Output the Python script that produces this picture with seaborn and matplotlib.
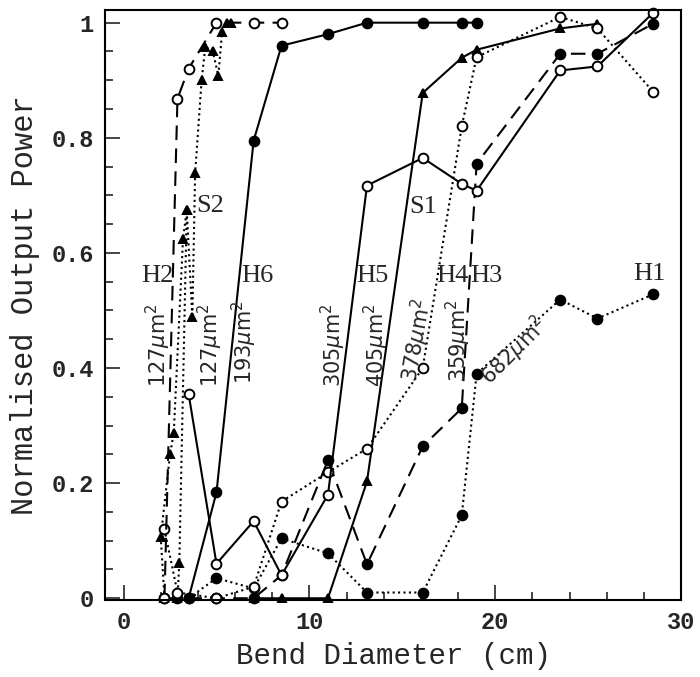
import matplotlib
matplotlib.use("Agg")
import matplotlib.pyplot as plt
from matplotlib.ticker import MultipleLocator, FixedLocator
import numpy as np
import pandas as pd
import seaborn as sns

# ---------------- data ----------------
h1_x = [3.5, 5.0, 7.0, 8.5, 11.0, 13.1, 16.1, 18.2, 19.0, 23.5, 25.5, 28.5]
h1_y = [0.0, 0.035, 0.017, 0.104, 0.078, 0.01, 0.01, 0.144, 0.39, 0.519, 0.486, 0.528]

h2_x = [2.2, 2.9, 3.5, 5.0, 7.0, 8.5]
h2_y = [0.0, 0.868, 0.92, 1.0, 1.0, 1.0]

h3_x = [2.2, 2.9, 5.0, 7.0, 8.5, 11.0, 13.1, 16.1, 18.2, 19.0, 23.5, 25.5, 28.5]
h3_y = [0.0, 0.0, 0.0, 0.0, 0.04, 0.24, 0.059, 0.264, 0.33, 0.755, 0.946, 0.946, 0.998]

h4_x = [2.2, 2.9, 5.0, 7.0, 8.5, 11.0, 13.1, 16.1, 18.2, 19.0, 23.5, 25.5, 28.5]
h4_y = [0.12, 0.01, 0.0, 0.02, 0.168, 0.219, 0.26, 0.40, 0.82, 0.94, 1.01, 0.99, 0.88]

h5_x = [3.5, 5.0, 7.0, 8.5, 11.0, 13.1, 16.1, 18.2, 19.0, 23.5, 25.5, 28.5]
h5_y = [0.355, 0.06, 0.134, 0.04, 0.18, 0.717, 0.765, 0.72, 0.708, 0.917, 0.924, 1.017]

h6_x = [3.5, 5.0, 7.0, 8.5, 11.0, 13.1, 16.1, 18.2, 19.0]
h6_y = [0.0, 0.184, 0.795, 0.96, 0.98, 1.0, 1.0, 1.0, 1.0]

s1_x = [7.0, 8.5, 11.0, 13.1, 16.1, 18.2, 19.0, 23.5, 25.5]
s1_y = [0.0, 0.0, 0.0, 0.203, 0.878, 0.939, 0.953, 0.99, 0.998]

s2a_x = [2.2, 2.0, 2.5, 2.7, 3.2, 3.4, 3.7, 3.85, 4.2, 4.4, 4.8, 5.1, 5.3, 5.55, 5.8]
s2a_y = [0.0, 0.106, 0.25, 0.287, 0.625, 0.674, 0.488, 0.738, 0.90, 0.958, 0.95, 0.908, 0.983, 1.0, 1.0]
s2b_x = [2.9, 3.0, 3.4]
s2b_y = [0.0, 0.062, 0.674]

series_labels = ["H2", "S2", "H6", "H5", "S1", "H4", "H3", "H1"]
label_x = [1.8, 4.65, 7.2, 13.4, 16.1, 17.7, 19.5, 28.3]
label_y = [0.56, 0.682, 0.56, 0.56, 0.68, 0.56, 0.56, 0.564]

area_labels = ["127", "127", "193", "305", "405", "378", "359", "682"]
area_x = [1.85, 4.65, 6.5, 11.3, 13.6, 15.8, 18.0, 21.0]
area_y = [0.44, 0.44, 0.445, 0.44, 0.44, 0.448, 0.448, 0.43]
area_rot = [90, 90, 90, 90, 90, 80, 90, 45]

x_ticks = [0, 10, 20, 30]
y_ticks = [0, 0.2, 0.4, 0.6, 0.8, 1.0]
y_tick_labels = ["0", "0.2", "0.4", "0.6", "0.8", "1"]

# ---------------- figure ----------------
sns.set_style("ticks")
plt.rcParams["font.family"] = ["Liberation Mono", "DejaVu Sans"]

fig = plt.figure(figsize=(7.0, 6.77), dpi=100)
ax = fig.add_axes([105 / 700, (677 - 600) / 677, (681 - 105) / 700, (600 - 10) / 677])

dotted = (0, (1.0, 1.6))
dashed = (0, (7, 4))

def draw(xs, ys, ls, marker, filled, ms):
    df = pd.DataFrame({"x": xs, "y": ys})
    sns.lineplot(data=df, x="x", y="y", ax=ax, estimator=None, sort=False,
                 color="black", linewidth=1.5, linestyle=ls,
                 marker=marker, markersize=ms,
                 markerfacecolor="black" if filled else "white",
                 markeredgecolor="black", markeredgewidth=1.4,
                 clip_on=False, legend=False)

draw(h1_x, h1_y, dotted, "o", True, 7)
draw(h3_x, h3_y, dashed, "o", True, 7)
draw(h6_x, h6_y, "-", "o", True, 7)
draw(s1_x, s1_y, "-", "^", True, 6)
draw(s2a_x, s2a_y, dotted, "^", True, 6)
draw(s2b_x, s2b_y, dotted, "^", True, 6)
draw(h4_x, h4_y, dotted, "o", False, 7)
draw(h5_x, h5_y, "-", "o", False, 7)
draw(h2_x, h2_y, dashed, "o", False, 7)

for t, x, y in zip(series_labels, label_x, label_y):
    ax.text(x, y, t, ha="center", va="center", fontsize=19,
            family=["Liberation Serif"])

for t, x, y, r in zip(area_labels, area_x, area_y, area_rot):
    ax.text(x, y, t + r"$\mu$m$^2$", ha="center", va="center", fontsize=15,
            rotation=r, family=["DejaVu Sans"])

ax.set_xlim(-1, 30)
ax.set_ylim(-0.003, 1.022)
ax.xaxis.set_major_locator(FixedLocator(x_ticks))
ax.xaxis.set_minor_locator(MultipleLocator(2))
ax.yaxis.set_major_locator(FixedLocator(y_ticks))
ax.yaxis.set_minor_locator(MultipleLocator(0.05))
ax.set_yticklabels(y_tick_labels)
ax.tick_params(which="both", direction="in", top=False, right=False,
               labelsize=17, width=1.2)
ax.tick_params(which="major", length=11, pad=8)
ax.tick_params(which="minor", length=6)
for lab in ax.get_xticklabels() + ax.get_yticklabels():
    lab.set_fontweight("bold")
for s in ax.spines.values():
    s.set_visible(True)
    s.set_linewidth(1.5)
    s.set_color("black")

ax.set_xlabel("Bend Diameter (cm)", fontsize=21, labelpad=6)
ax.set_ylabel("Normalised Output Power", fontsize=22, labelpad=8)

fig.savefig("out.png", dpi=100, facecolor="white")
